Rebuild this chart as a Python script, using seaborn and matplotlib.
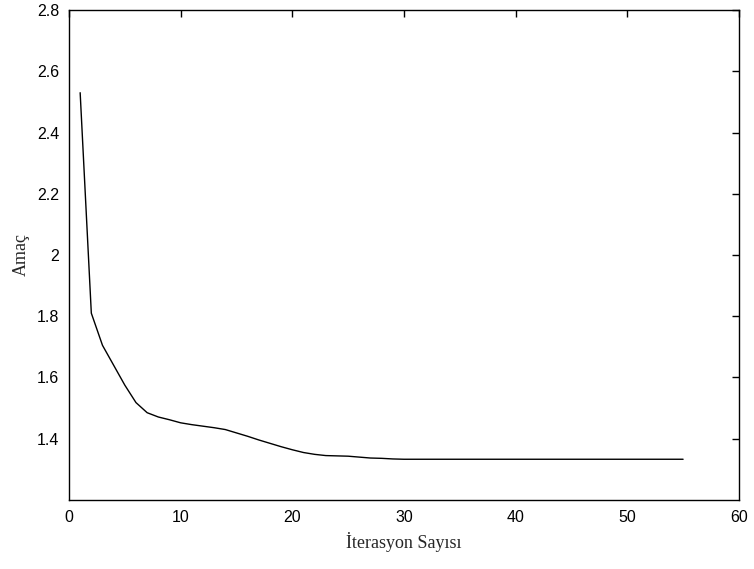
import pandas as pd
import matplotlib
matplotlib.use("Agg")
import matplotlib.pyplot as plt
import seaborn as sns

# iteration number and objective value
iterations = list(range(1, 56))
objective = [
    2.530, 1.810, 1.705, 1.640, 1.575, 1.518, 1.485, 1.471, 1.462, 1.452,
    1.446, 1.441, 1.436, 1.430, 1.419, 1.408, 1.396, 1.385, 1.374, 1.364,
    1.355, 1.349, 1.345, 1.344, 1.343, 1.340, 1.337, 1.336, 1.334, 1.333,
    1.333, 1.333, 1.333, 1.333, 1.333, 1.333, 1.333, 1.333, 1.333, 1.333,
    1.333, 1.333, 1.333, 1.333, 1.333, 1.333, 1.333, 1.333, 1.333, 1.333,
    1.333, 1.333, 1.333, 1.333, 1.333,
]
x_ticks = [0, 10, 20, 30, 40, 50, 60]
y_ticks = [1.4, 1.6, 1.8, 2.0, 2.2, 2.4, 2.6, 2.8]
y_tick_labels = ["1.4", "1.6", "1.8", "2", "2.2", "2.4", "2.6", "2.8"]

df = pd.DataFrame({"iter": iterations, "obj": objective})

sns.set_style("white")
plt.rcParams["font.family"] = ["Liberation Sans", "DejaVu Sans"]

fig = plt.figure(figsize=(7.54, 5.69), dpi=100)
ax = fig.add_axes([0.0915, 0.1213, 0.8885, 0.8611])

sns.lineplot(data=df, x="iter", y="obj", color="black", linewidth=1.0, ax=ax)

ax.set_xlim(0, 60)
ax.set_ylim(1.2, 2.8)
ax.set_xticks(x_ticks)
ax.set_yticks(y_ticks)
ax.set_yticklabels(y_tick_labels)

# matlab-ish box: ticks inside, on every side
ax.tick_params(axis="both", direction="in", length=5, width=1, colors="black",
               labelsize=11.5, top=True, right=True, pad=7)
for side in ["top", "right", "left", "bottom"]:
    ax.spines[side].set_color("black")
    ax.spines[side].set_linewidth(1)
ax.grid(False)

ax.set_xlabel("İterasyon Sayısı", fontsize=13, family=["Liberation Serif", "DejaVu Serif"], labelpad=5)
ax.set_ylabel("Amaç", fontsize=13, family=["Liberation Serif", "DejaVu Serif"], labelpad=5)

fig.savefig("out.png", dpi=100)
